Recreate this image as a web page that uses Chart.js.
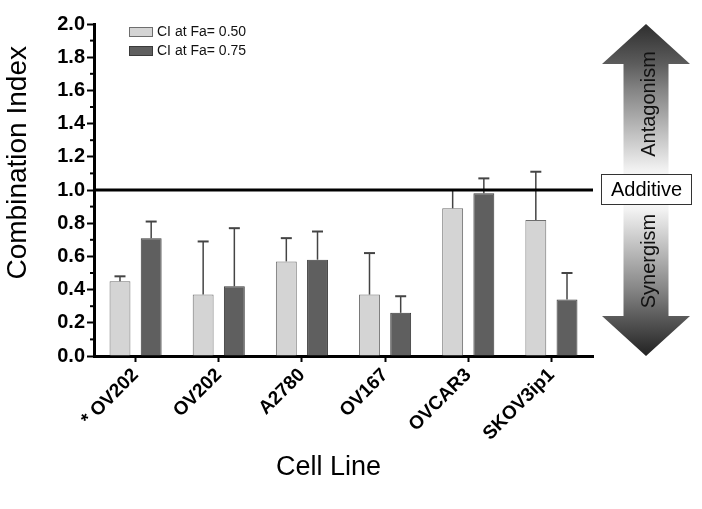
<!DOCTYPE html>
<html>
<head>
<meta charset="utf-8">
<script src="https://cdn.jsdelivr.net/npm/chart.js@4.4.1/dist/chart.umd.min.js"></script>
<style>
 html, body { margin:0; padding:0; background:#fff; }
</style>
</head>
<body>
<canvas id="myChart" width="702" height="509"></canvas>
<script>
// data
var cellLines = ['* OV202', 'OV202', 'A2780', 'OV167', 'OVCAR3', 'SKOV3ip1'];
var ci50 = [0.45, 0.37, 0.57, 0.37, 0.89, 0.82];
var ci75 = [0.71, 0.42, 0.58, 0.26, 0.98, 0.34];
var ci50Err = [0.03, 0.32, 0.14, 0.25, 0.11, 0.29];   // upper error only
var ci75Err = [0.10, 0.35, 0.17, 0.10, 0.09, 0.16];
var seriesNames = ['CI at Fa= 0.50', 'CI at Fa= 0.75'];
var yTicks = [0, 0.2, 0.4, 0.6, 0.8, 1.0, 1.2, 1.4, 1.6, 1.8, 2.0];
var additiveLevel = 1.0;

var FONT = "'Liberation Sans', Arial, Helvetica, sans-serif";
var NB = '\u00a0';

// error bars, additive line, legend and the arrow on the right
var extras = {
  id: 'extras',
  afterDatasetsDraw: function(chart) {
    var ctx = chart.ctx;
    var y = chart.scales.y;
    var area = chart.chartArea;
    var errs = [ci50Err, ci75Err];
    ctx.save();
    for (var d = 0; d < chart.data.datasets.length; d++) {
      var meta = chart.getDatasetMeta(d);
      var vals = chart.data.datasets[d].data;
      for (var i = 0; i < meta.data.length; i++) {
        var bx = meta.data[i].x;
        var y0 = y.getPixelForValue(vals[i]);
        var y1 = y.getPixelForValue(vals[i] + errs[d][i]);
        ctx.strokeStyle = '#444';
        ctx.lineWidth = 1.5;
        ctx.beginPath(); ctx.moveTo(bx, y0); ctx.lineTo(bx, y1); ctx.stroke();
        ctx.lineWidth = 2;
        ctx.beginPath(); ctx.moveTo(bx - 5.5, y1); ctx.lineTo(bx + 5.5, y1); ctx.stroke();
      }
    }
    // additive line at CI = 1
    var ya = y.getPixelForValue(additiveLevel);
    ctx.strokeStyle = '#000';
    ctx.lineWidth = 3;
    ctx.beginPath(); ctx.moveTo(area.left, ya); ctx.lineTo(area.right, ya); ctx.stroke();

    // minor ticks on y axis
    ctx.lineWidth = 2;
    for (var k = 0; k < yTicks.length - 1; k++) {
      var ym = y.getPixelForValue((yTicks[k] + yTicks[k + 1]) / 2);
      ctx.beginPath(); ctx.moveTo(area.left - 4, ym); ctx.lineTo(area.left, ym); ctx.stroke();
    }

    // legend
    ctx.font = '14px ' + FONT;
    ctx.textBaseline = 'middle';
    ctx.textAlign = 'left';
    for (var j = 0; j < chart.data.datasets.length; j++) {
      var ds = chart.data.datasets[j];
      var ly = area.top + 3 + j * 19;
      ctx.fillStyle = ds.backgroundColor;
      ctx.fillRect(area.left + 35, ly, 24, 10);
      ctx.strokeStyle = ds.borderColor;
      ctx.lineWidth = 1;
      ctx.strokeRect(area.left + 35.5, ly + 0.5, 23, 9);
      ctx.fillStyle = '#111';
      ctx.fillText(ds.label, area.left + 63, ly + 5.5);
    }

    // double arrow
    var cx = area.right + 53;
    var yt = y.getPixelForValue(yTicks[yTicks.length - 1]);
    var yb = y.getPixelForValue(yTicks[0]);
    var headH = 40, headW = 44, shaftW = 22.5;
    var g = ctx.createLinearGradient(0, yt, 0, yb);
    g.addColorStop(0, '#2e2e2e');
    g.addColorStop(0.12, '#5c5c5c');
    g.addColorStop(0.2, '#858585');
    g.addColorStop(0.44, '#f2f2f2');
    g.addColorStop(0.5, '#ffffff');
    g.addColorStop(0.56, '#f2f2f2');
    g.addColorStop(0.8, '#858585');
    g.addColorStop(0.88, '#5c5c5c');
    g.addColorStop(1, '#222');
    ctx.fillStyle = g;
    ctx.beginPath();
    ctx.moveTo(cx, yt);
    ctx.lineTo(cx + headW, yt + headH);
    ctx.lineTo(cx + shaftW, yt + headH);
    ctx.lineTo(cx + shaftW, yb - headH);
    ctx.lineTo(cx + headW, yb - headH);
    ctx.lineTo(cx, yb);
    ctx.lineTo(cx - headW, yb - headH);
    ctx.lineTo(cx - shaftW, yb - headH);
    ctx.lineTo(cx - shaftW, yt + headH);
    ctx.lineTo(cx - headW, yt + headH);
    ctx.closePath();
    ctx.fill();

    // Additive box
    ctx.fillStyle = '#fff';
    ctx.fillRect(area.right + 8, ya - 16, 91, 31);
    ctx.strokeStyle = '#333';
    ctx.lineWidth = 1;
    ctx.strokeRect(area.right + 8.5, ya - 15.5, 90, 30);
    ctx.fillStyle = '#000';
    ctx.font = '20px ' + FONT;
    ctx.textAlign = 'center';
    ctx.fillText('Additive', area.right + 53.5, ya);

    // rotated labels
    ctx.font = '20px ' + FONT;
    ctx.fillStyle = '#111';
    ctx.save();
    ctx.translate(cx + 3, (yt + ya) / 2 - 3);
    ctx.rotate(-Math.PI / 2);
    ctx.fillText('Antagonism', 0, 0);
    ctx.restore();
    ctx.save();
    ctx.translate(cx + 3, (ya + yb) / 2 - 12);
    ctx.rotate(-Math.PI / 2);
    ctx.fillText('Synergism', 0, 0);
    ctx.restore();
    ctx.restore();
  }
};

var ctx = document.getElementById('myChart');
var myChart = new Chart(ctx, {
  type: 'bar',
  data: {
    labels: cellLines,
    datasets: [
      {
        label: seriesNames[0],
        data: ci50,
        backgroundColor: '#d4d4d4',
        borderColor: '#6e6e6e',
        borderWidth: 1,
        categoryPercentage: 0.75,
        barPercentage: 0.67
      },
      {
        label: seriesNames[1],
        data: ci75,
        backgroundColor: '#5f5f5f',
        borderColor: '#3a3a3a',
        borderWidth: 1,
        categoryPercentage: 0.75,
        barPercentage: 0.67
      }
    ]
  },
  options: {
    responsive: false,
    devicePixelRatio: 1,
    animation: false,
    layout: { padding: { top: 24, right: 109, bottom: 25, left: 0 } },
    plugins: {
      legend: { display: false },
      tooltip: { enabled: false }
    },
    scales: {
      x: {
        grid: { display: true, drawOnChartArea: false, offset: false, tickLength: 6, tickWidth: 2, color: '#000' },
        border: { display: true, color: '#000', width: 3 },
        ticks: {
          color: '#000',
          font: { family: FONT, size: 19, weight: 'bold' },
          minRotation: 45, maxRotation: 45, autoSkip: false, padding: 2
        },
        title: {
          display: true, text: 'Cell Line' + NB + NB + NB + NB, color: '#000',
          font: { family: FONT, size: 27 },
          padding: { top: 0, bottom: 0 }
        },
        afterFit: function(scale) { scale.height = 128; }
      },
      y: {
        min: 0, max: 2,
        grid: { display: true, drawOnChartArea: false, tickLength: 7, tickWidth: 2, color: '#000' },
        border: { display: true, color: '#000', width: 3 },
        ticks: {
          stepSize: 0.2, color: '#000', padding: 2,
          font: { family: FONT, size: 20, weight: 'bold' },
          callback: function(v) { return v.toFixed(1); }
        },
        afterBuildTicks: function(scale) {
          scale.ticks = yTicks.map(function(v) { return { value: v }; });
        },
        title: {
          display: true, text: NB + NB + NB + NB + NB + NB + NB + 'Combination Index', color: '#000',
          font: { family: FONT, size: 28 },
          padding: { top: 1, bottom: 0 }
        },
        afterFit: function(scale) { scale.width = 94; }
      }
    }
  },
  plugins: [extras]
});
</script>
</body>
</html>
